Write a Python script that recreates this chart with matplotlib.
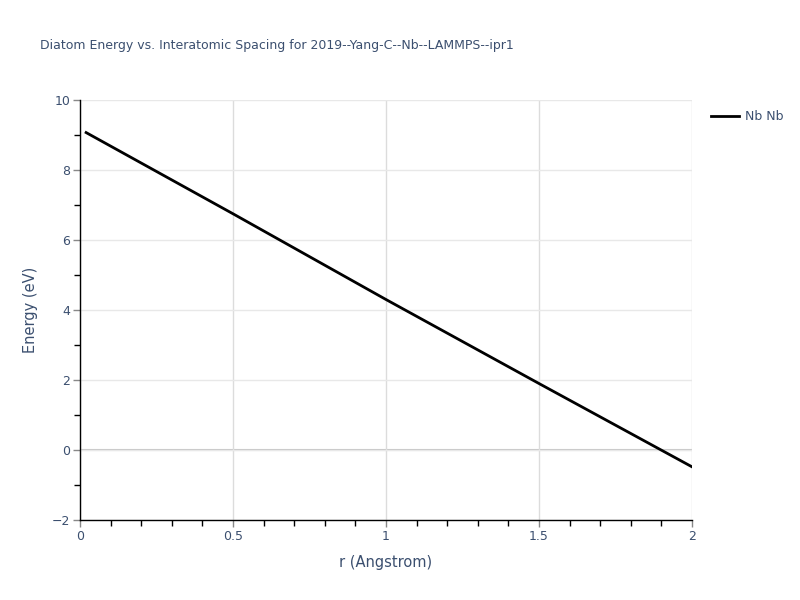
import matplotlib
matplotlib.use("Agg")
import matplotlib.pyplot as plt
from matplotlib.ticker import MultipleLocator

# values
r_vals = [0.02, 0.5, 1.0, 1.5, 2.0]
energy = [9.07, 6.75, 4.30, 1.90, -0.48]
series_name = "Nb Nb"
title = "Diatom Energy vs. Interatomic Spacing for 2019--Yang-C--Nb--LAMMPS--ipr1"

text_col = "#3b4f6f"
grid_col = "#e8e8e8"

fig = plt.figure(figsize=(8, 6), dpi=100)
ax = fig.add_axes([0.1, 0.1333, 0.765, 0.7])

ax.plot(r_vals, energy, color="black", lw=2, label=series_name, zorder=3)

ax.set_xlim(0, 2)
ax.set_ylim(-2, 10)
ax.xaxis.set_minor_locator(MultipleLocator(0.1))
ax.yaxis.set_minor_locator(MultipleLocator(1))
ax.set_xticks([0, 0.5, 1, 1.5, 2])
ax.set_xticklabels(["0", "0.5", "1", "1.5", "2"])
ax.set_yticks([-2, 0, 2, 4, 6, 8, 10])
ax.set_yticklabels(["\u22122", "0", "2", "4", "6", "8", "10"])

ax.grid(True, which="major", axis="y", color=grid_col, lw=1, zorder=0)
ax.grid(True, which="major", axis="x", color="#dcdcdc", lw=1, zorder=0)
ax.axhline(0, color="#c4c4c4", lw=1.5, zorder=1)

for s in ["top", "right"]:
    ax.spines[s].set_visible(False)
for s in ["left", "bottom"]:
    ax.spines[s].set_color("black")
    ax.spines[s].set_linewidth(1)

ax.tick_params(which="major", direction="out", length=5, width=1, color="#888888",
               labelsize=9, labelcolor=text_col, pad=2)
ax.tick_params(which="minor", direction="out", length=4, width=1, color="black")

ax.set_xlabel("r (Angstrom)", fontsize=10.5, color=text_col, labelpad=9)
ax.set_ylabel("Energy (eV)", fontsize=10.5, color=text_col, labelpad=10)

fig.text(0.05, 0.925, title, fontsize=9, color=text_col, ha="left", va="center")

fig.legend(loc="upper left", bbox_to_anchor=(0.875, 0.835), frameon=False,
           fontsize=9, labelcolor=text_col, handlelength=2.2, handletextpad=0.5)

fig.savefig("out.png", dpi=100)
